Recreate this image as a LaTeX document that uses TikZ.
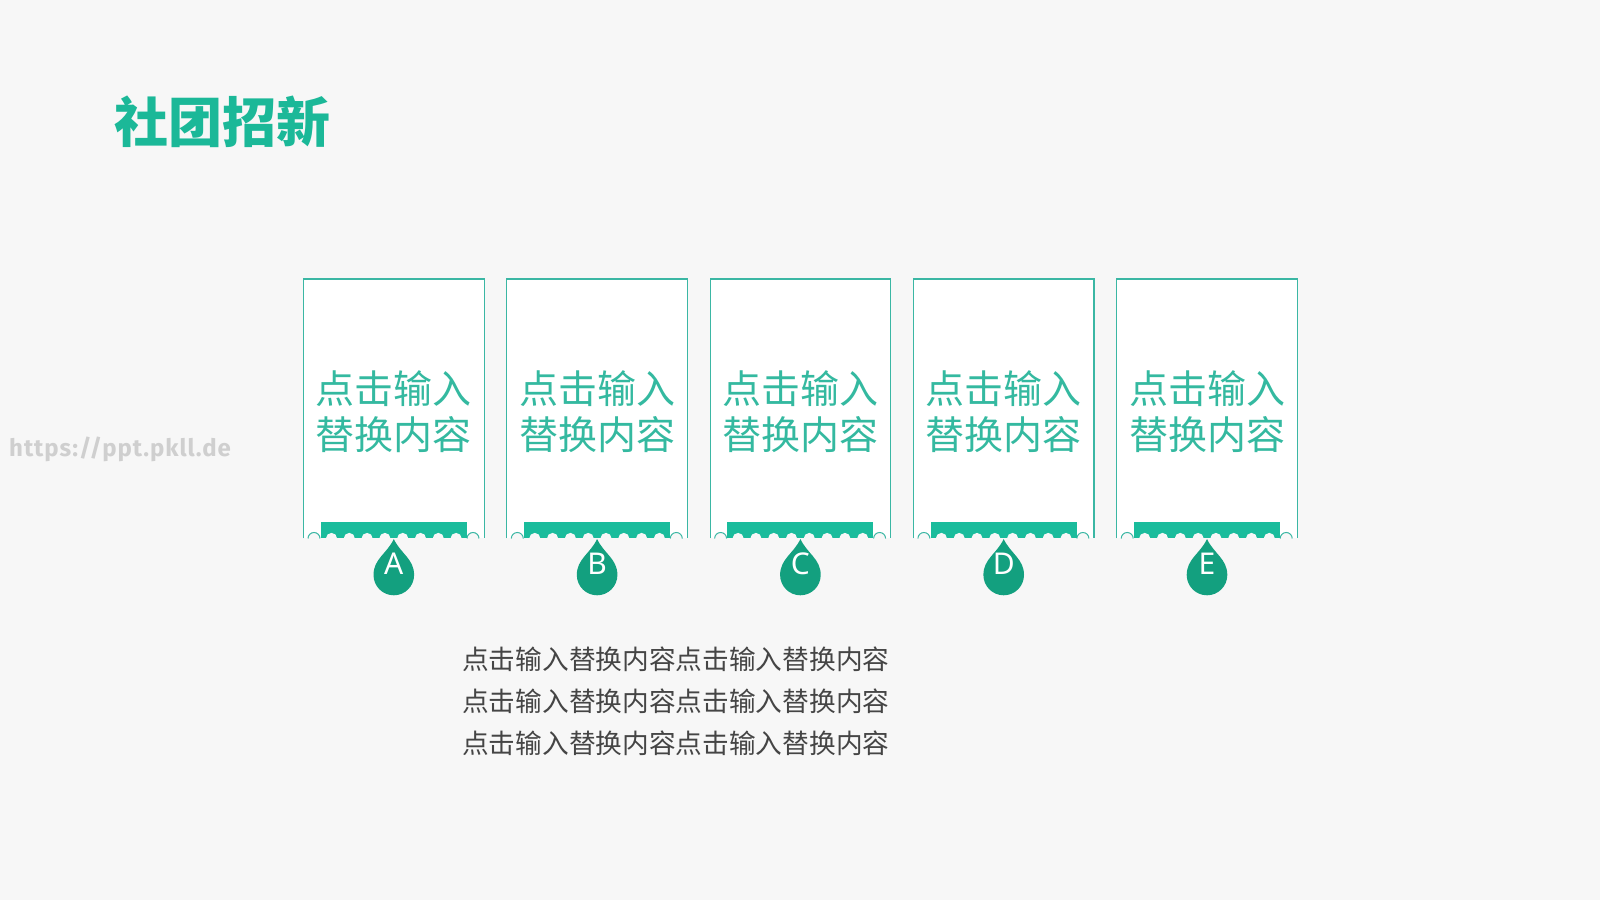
\documentclass[tikz,border=0pt]{standalone}
\usepackage{fontspec}
\newfontfamily\cjk{Noto Sans CJK SC}
\newfontfamily\latinf{Noto Sans}
\newfontfamily\wmfont[LetterSpace=4]{Fira Sans}
\definecolor{bg}{HTML}{F7F7F7}
\definecolor{titlegreen}{HTML}{1BB898}
\definecolor{cardtext}{HTML}{34B9A0}
\definecolor{cardline}{HTML}{3BB7A4}
\definecolor{bargreen}{HTML}{1ABC9C}
\definecolor{dropgreen}{HTML}{13A07F}
\definecolor{bodytext}{HTML}{454545}
\definecolor{wmgray}{HTML}{CFCFCF}
\tikzset{
  cardbox/.style={fill=white, draw=cardline, line width=1.1pt},
  cardlabel/.style={inner sep=0pt, text=cardtext, font=\cjk\fontsize{39}{39}\selectfont},
  droplabel/.style={inner sep=0pt, text=white, font=\latinf\fontsize{30}{30}\selectfont},
  bodyline/.style={inner sep=0pt, anchor=west, text=bodytext, font=\cjk\fontsize{26.7}{26.7}\selectfont},
}
\begin{document}
\begin{tikzpicture}[x=1pt,y=1pt]
\fill[bg] (0,0) rectangle (1600,900);
\useasboundingbox (0,0) rectangle (1600,900);
% title
\node[inner sep=0pt, anchor=west, text=titlegreen, font=\cjk\bfseries\fontsize{54}{54}\selectfont] (title) at (114,778) {社团招新};
% watermark
\node[inner sep=0pt, anchor=west, text=wmgray, font=\wmfont\bfseries\fontsize{24}{24}\selectfont] (wm) at (9,451) {https://ppt.pkll.de};
% cards
\foreach \L/\lab [count=\i] in {303.5/A,506.8/B,710.1/C,913.4/D,1116.7/E}{
  \path[cardbox] (\L,361.5) -- (\L,621) -- (\L+180.6,621) -- (\L+180.6,361.5);
  % corner bumps
  \filldraw[fill=bg, draw=cardline, line width=1pt] (\L+4.5,361.5) arc[start angle=180,end angle=0,radius=6];
  \filldraw[fill=bg, draw=cardline, line width=1pt] (\L+163.5,361.5) arc[start angle=180,end angle=0,radius=6];
  % bar
  \fill[bargreen] (\L+17.2,361.5) rectangle (\L+163.2,378);
  \foreach \k in {0,...,7}{
    \fill[bg] (\L+28+17.8*\k-5.6,361.5) arc[start angle=180,end angle=0,radius=5.6] -- cycle;
  }
  % texts
  \node[cardlabel] (ta\i) at (\L+90.3,511) {点击输入};
  \node[cardlabel] (tb\i) at (\L+90.3,465) {替换内容};
  % drop
  \fill[dropgreen] (\L+90.3,361) to[out=-65,in=90] (\L+110.6,325)
     arc[start angle=0,end angle=-180,radius=20.3] to[out=90,in=-115] cycle;
  \node[droplabel] (d\i) at (\L+90.3,336) {\lab};
}
% body text
\node[bodyline] (l1) at (462,241) {点击输入替换内容点击输入替换内容};
\node[bodyline] (l2) at (462,199) {点击输入替换内容点击输入替换内容};
\node[bodyline] (l3) at (462,157) {点击输入替换内容点击输入替换内容};
\end{tikzpicture}
\end{document}
